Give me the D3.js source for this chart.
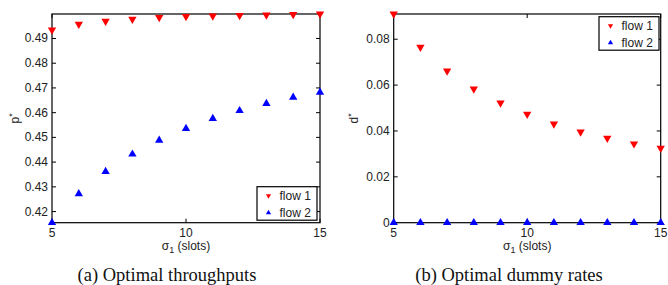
<!DOCTYPE html>
<html>
<head>
<meta charset="utf-8">
<script src="https://cdn.jsdelivr.net/npm/d3@7/dist/d3.min.js"></script>
<style>
  body { margin: 0; background: #fff; }
  svg { display: block; }
  text { font-family: "Liberation Sans", Arial, sans-serif; }
  text.caption { font-family: "Liberation Serif", "Times New Roman", serif; }
</style>
</head>
<body>
<svg width="668" height="285"></svg>
<script>
// data
var sigma = [5, 6, 7, 8, 9, 10, 11, 12, 13, 14, 15];
var thrFlow1 = [0.4935, 0.4958, 0.4970, 0.4978, 0.4985, 0.4989, 0.4991, 0.4993, 0.4995, 0.4997, 0.4999];
var thrFlow2 = [0.4155, 0.4272, 0.4362, 0.4432, 0.4488, 0.4536, 0.4576, 0.4608, 0.4637, 0.4662, 0.4682];
var dumFlow1 = [0.0910, 0.0765, 0.0662, 0.0583, 0.0522, 0.0473, 0.0431, 0.0396, 0.0369, 0.0344, 0.0325];
var dumFlow2 = [0, 0, 0, 0, 0, 0, 0, 0, 0, 0, 0];
var xTicks = [5, 10, 15];
var thrTicks = [0.42, 0.43, 0.44, 0.45, 0.46, 0.47, 0.48, 0.49];
var dumTicks = [0, 0.02, 0.04, 0.06, 0.08];
var legendNames = ["flow 1", "flow 2"];

var svg = d3.select("svg");

var triUp = d3.symbol().type(d3.symbolTriangle).size(30);
var triSmall = d3.symbol().type(d3.symbolTriangle).size(12);

function panel(opt) {
  var x = d3.scaleLinear().domain([5, 15]).range([opt.left, opt.right]);
  var y = d3.scaleLinear().domain(opt.ydomain).range([opt.bottom, opt.top]);
  var g = svg.append("g");

  // ticks (inside, on all four sides)
  var tk = 4;
  opt.yticks.forEach(function(v) {
    g.append("line").attr("x1", opt.left).attr("x2", opt.left + tk)
      .attr("y1", y(v)).attr("y2", y(v)).attr("stroke", "#000");
    g.append("line").attr("x1", opt.right).attr("x2", opt.right - tk)
      .attr("y1", y(v)).attr("y2", y(v)).attr("stroke", "#000");
    g.append("text").attr("x", opt.left - 4).attr("y", y(v) + 4)
      .attr("text-anchor", "end").attr("font-size", 12).attr("fill", "#222")
      .text(opt.fmt(v));
  });
  xTicks.forEach(function(v) {
    g.append("line").attr("x1", x(v)).attr("x2", x(v))
      .attr("y1", opt.bottom).attr("y2", opt.bottom - tk).attr("stroke", "#000");
    g.append("line").attr("x1", x(v)).attr("x2", x(v))
      .attr("y1", opt.top).attr("y2", opt.top + tk).attr("stroke", "#000");
    g.append("text").attr("x", x(v)).attr("y", opt.bottom + 14)
      .attr("text-anchor", "middle").attr("font-size", 12).attr("fill", "#222")
      .text(v);
  });

  // box
  g.append("rect").attr("x", opt.left).attr("y", opt.top)
    .attr("width", opt.right - opt.left).attr("height", opt.bottom - opt.top)
    .attr("fill", "none").attr("stroke", "#000").attr("stroke-width", 1.2);

  // markers
  g.selectAll(".f2").data(sigma).enter().append("path")
    .attr("d", triUp).attr("fill", "#0000ff")
    .attr("transform", function(d, i) { return "translate(" + x(d) + "," + y(opt.s2[i]) + ")"; });
  g.selectAll(".f1").data(sigma).enter().append("path")
    .attr("d", triUp).attr("fill", "#ff0000")
    .attr("transform", function(d, i) { return "translate(" + x(d) + "," + y(opt.s1[i]) + ") rotate(180)"; });

  // axis labels
  var xl = g.append("text").attr("x", (opt.left + opt.right) / 2).attr("y", opt.bottom + 27)
    .attr("text-anchor", "middle").attr("font-size", 12).attr("fill", "#222");
  xl.append("tspan").text("σ");
  xl.append("tspan").attr("font-size", 9).attr("dy", 3).text("1");
  xl.append("tspan").attr("dy", -3).text(" (slots)");

  var yl = g.append("text")
    .attr("transform", "translate(" + opt.ylx + "," + ((opt.top + opt.bottom) / 2) + ") rotate(-90)")
    .attr("text-anchor", "middle").attr("font-size", 12).attr("fill", "#222");
  yl.append("tspan").text(opt.ylab);
  yl.append("tspan").attr("font-size", 9).attr("dy", -4).text("*");

  // legend
  var lg = g.append("g").attr("transform", "translate(" + opt.lx + "," + opt.ly + ")");
  lg.append("rect").attr("width", 60).attr("height", 33.5)
    .attr("fill", "#fff").attr("stroke", "#000").attr("stroke-width", 1.2);
  legendNames.forEach(function(n, i) {
    var cy = 9 + i * 17;
    lg.append("path").attr("d", triSmall)
      .attr("fill", i == 0 ? "#ff0000" : "#0000ff")
      .attr("transform", "translate(11.5," + cy + ")" + (i == 0 ? " rotate(180)" : ""));
    lg.append("text").attr("x", 22.5).attr("y", cy + 4.5)
      .attr("font-size", 12).attr("fill", "#222").text(n);
  });

  // caption
  svg.append("text").attr("class", "caption").attr("x", opt.capx).attr("y", 281)
    .attr("text-anchor", "middle")
    .attr("font-size", 18.5).attr("fill", "#111").text(opt.caption);
}

panel({
  left: 52, right: 320, top: 14, bottom: 222.7,
  ydomain: [0.4155, 0.4999], yticks: thrTicks, fmt: d3.format(".2f"),
  s1: thrFlow1, s2: thrFlow2, ylab: "p", ylx: 19,
  lx: 257, ly: 186.7, capx: 167, caption: "(a) Optimal throughputs"
});

panel({
  left: 393.7, right: 660.7, top: 14, bottom: 222.7,
  ydomain: [0, 0.091], yticks: dumTicks, fmt: function(v) { return v == 0 ? "0" : d3.format(".2f")(v); },
  s1: dumFlow1, s2: dumFlow2, ylab: "d", ylx: 358,
  lx: 599, ly: 16.7, capx: 509, caption: "(b) Optimal dummy rates"
});
</script>
</body>
</html>
